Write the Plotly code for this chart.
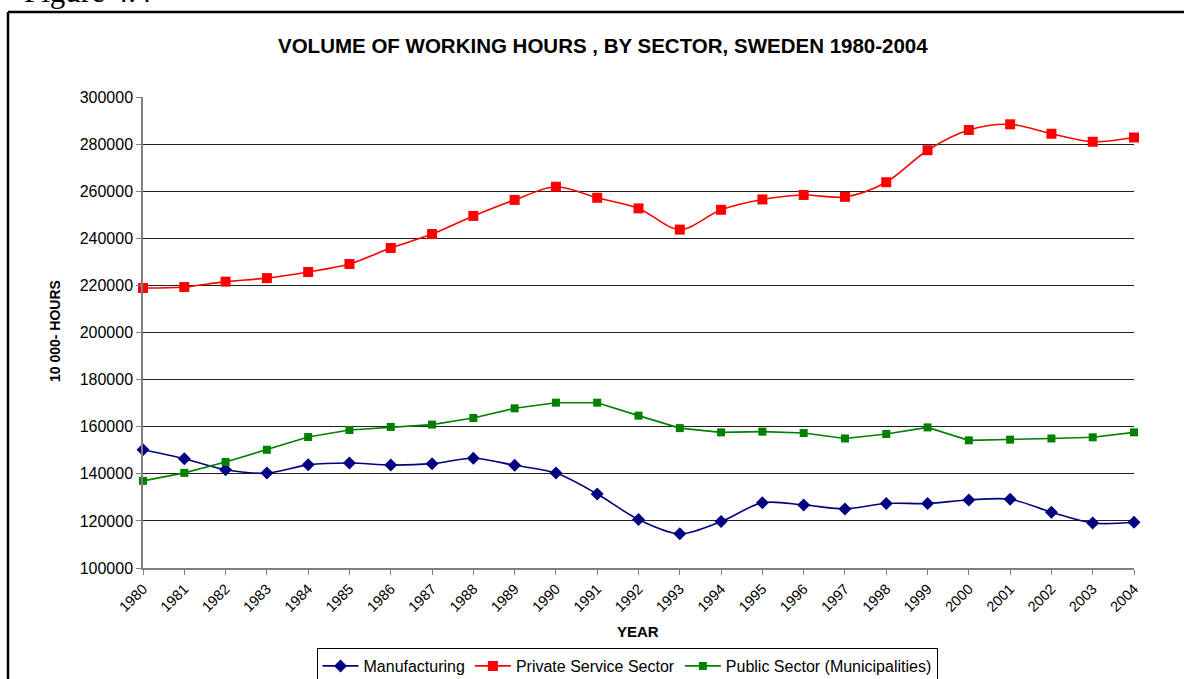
import plotly.graph_objects as go

# data
years = list(range(1980, 2005))
manufacturing = [150200, 146400, 141700, 140300, 143800, 144600, 143700, 144300, 146600, 143600,
                 140300, 131400, 120600, 114500, 119700, 127700, 126800, 125100, 127400, 127400,
                 128900, 129200, 123700, 119100, 119400]
private_service = [218900, 219300, 221600, 223100, 225700, 229100, 235900, 241800, 249500, 256300,
                   261900, 257200, 252700, 243700, 252100, 256500, 258400, 257600, 263800, 277400,
                   286000, 288400, 284400, 281000, 282800]
public_sector = [137000, 140400, 145000, 150200, 155600, 158600, 159900, 160900, 163700, 167800,
                 170200, 170200, 164700, 159400, 157600, 157900, 157300, 155000, 156900, 159700,
                 154200, 154500, 155000, 155500, 157600]

W, H = 1184, 679
L, R, T, B = 143, 1134, 97, 568  # plot area in pixels


def px(x):
    return (x - L) / (R - L)


def py_(y):
    return (B - y) / (B - T)


fig = go.Figure()
fig.add_trace(go.Scatter(x=years, y=manufacturing, name="Manufacturing", mode="lines+markers",
                         line=dict(color="#000080", width=1.6, shape="spline", smoothing=0.9),
                         marker=dict(symbol="diamond", size=10, color="#000080"),
                         cliponaxis=False))
fig.add_trace(go.Scatter(x=years, y=private_service, name="Private Service Sector", mode="lines+markers",
                         line=dict(color="#FF0000", width=1.6, shape="spline", smoothing=0.9),
                         marker=dict(symbol="square", size=10, color="#FF0000"),
                         cliponaxis=False))
fig.add_trace(go.Scatter(x=years, y=public_sector, name="Public Sector (Municipalities)", mode="lines+markers",
                         line=dict(color="#008000", width=1.6),
                         marker=dict(symbol="square", size=8, color="#008000"),
                         cliponaxis=False))

fig.update_layout(
    width=W, height=H,
    margin=dict(l=L, r=W - R, t=T, b=H - B, pad=0, autoexpand=False),
    paper_bgcolor="white", plot_bgcolor="white",
    font=dict(family="Arial, Liberation Sans, sans-serif", color="black", size=14),
    showlegend=True,
    legend=dict(orientation="h", x=px(627), y=py_(666), xanchor="center", yanchor="middle",
                bordercolor="black", borderwidth=1, font=dict(size=16),
                itemwidth=36, tracegroupgap=0),
)
fig.update_xaxes(range=[1980, 2004], tickvals=years, ticktext=[str(y) for y in years],
                 tickangle=-45, ticks="outside", ticklen=5, tickcolor="#808080",
                 showline=True, linecolor="#808080", linewidth=1.5, showgrid=False,
                 zeroline=False, tickfont=dict(size=14.5), automargin=False)
fig.update_yaxes(range=[100000, 300000], dtick=20000, tickformat="d", ticks="outside",
                 ticklen=5, tickcolor="#808080", showline=True, linecolor="#808080",
                 linewidth=1.5, showgrid=True, gridcolor="#202020", gridwidth=1,
                 zeroline=False, tickfont=dict(size=16), automargin=False)

fig.add_annotation(text="<b>VOLUME OF WORKING HOURS , BY SECTOR, SWEDEN 1980-2004</b>",
                   xref="paper", yref="paper", x=px(603), y=py_(45), showarrow=False,
                   xanchor="center", yanchor="middle", font=dict(size=20.5))
fig.add_annotation(text="<b>YEAR</b>", xref="paper", yref="paper", x=px(638), y=py_(631),
                   showarrow=False, xanchor="center", yanchor="middle", font=dict(size=15))
fig.add_annotation(text="<b>10 000- HOURS</b>", xref="paper", yref="paper", x=px(55), y=py_(331),
                   showarrow=False, xanchor="center", yanchor="middle", textangle=-90,
                   font=dict(size=14))
fig.add_annotation(text="Figure 4.4", xref="paper", yref="paper", x=px(22), y=py_(-9),
                   showarrow=False, xanchor="left", yanchor="middle",
                   font=dict(size=31, family="Liberation Serif, Times New Roman, serif"))

# outer frame (top and left edges only are visible)
fig.add_shape(type="line", xref="paper", yref="paper", x0=px(8), x1=px(1200), y0=py_(12), y1=py_(12),
              line=dict(color="black", width=2.5))
fig.add_shape(type="line", xref="paper", yref="paper", x0=px(8), x1=px(8), y0=py_(12), y1=py_(700),
              line=dict(color="black", width=2.5))

fig.write_html("out.html", config={"displayModeBar": False},
               post_script="document.body.style.margin='0';document.body.style.overflow='hidden';")
